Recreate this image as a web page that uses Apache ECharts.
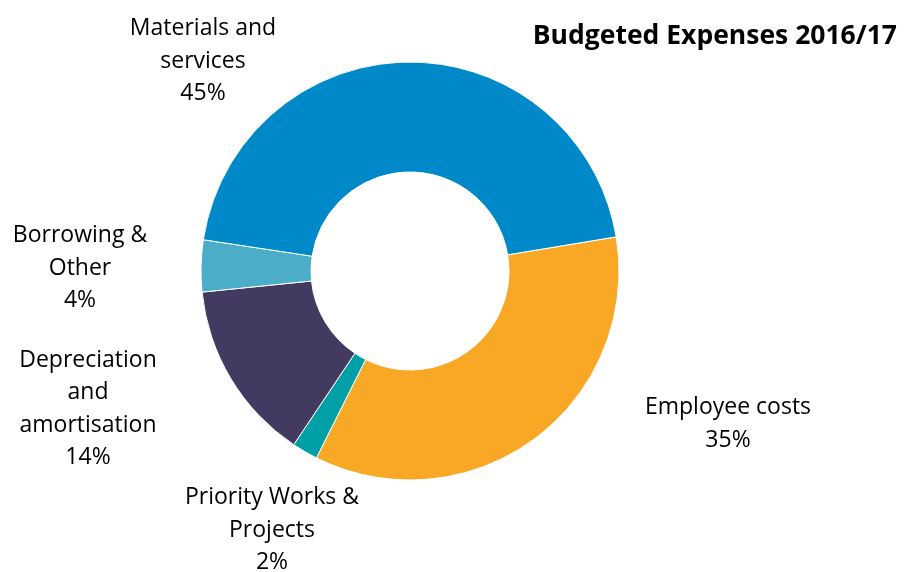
<!DOCTYPE html>
<html>
<head>
<meta charset="utf-8">
<title>Budgeted Expenses 2016/17</title>
<script src="https://cdn.jsdelivr.net/npm/echarts@6/dist/echarts.min.js"></script>
<style>
  html, body { margin: 0; padding: 0; background: #ffffff; }
  #chart { width: 910px; height: 572px; }
</style>
</head>
<body>
<div id="chart"></div>
<script>
// Expense categories, in drawing order (clockwise)
const categories = [
  'Employee costs',
  'Priority Works & Projects',
  'Depreciation and amortisation',
  'Borrowing & Other',
  'Materials and services'
];
// Share of budgeted expenses, percent
const shares = [35, 2, 14, 4, 45];
// Label text as it wraps on the chart
const labelLines = [
  ['Employee costs'],
  ['Priority Works &', 'Projects'],
  ['Depreciation', 'and', 'amortisation'],
  ['Borrowing &', 'Other'],
  ['Materials and', 'services']
];
const colors = ['#F9A826', '#00A0A6', '#433A61', '#4BADC8', '#0089C9'];

// Where each category label block sits (centre of block)
const labelAnchors = [
  [728, 424],
  [272, 530],
  [88, 409],
  [80, 268],
  [203, 61]
];

const chart = echarts.init(document.getElementById('chart'), null, { renderer: 'canvas' });

chart.setOption({
  animation: false,
  backgroundColor: '#ffffff',
  title: {
    text: 'Budgeted Expenses 2016/17',
    right: 8,
    top: 18,
    textStyle: {
      fontFamily: 'Open Sans',
      fontWeight: 'bold',
      fontSize: 26.5,
      color: '#000000'
    }
  },
  series: [{
    type: 'pie',
    center: [410, 271],
    radius: [99, 209],
    startAngle: 9.4,
    clockwise: true,
    silent: true,
    itemStyle: { borderColor: '#ffffff', borderWidth: 1 },
    label: {
      show: true,
      position: 'outside',
      fontFamily: 'Open Sans',
      fontSize: 23,
      lineHeight: 32.5,
      color: '#000000',
      align: 'center',
      formatter: p => labelLines[p.dataIndex].concat([p.value + '%']).join('\n')
    },
    labelLine: { show: false },
    labelLayout: p => ({
      x: labelAnchors[p.dataIndex][0],
      y: labelAnchors[p.dataIndex][1],
      align: 'center',
      verticalAlign: 'middle'
    }),
    data: categories.map((name, i) => ({
      name: name,
      value: shares[i],
      itemStyle: { color: colors[i] }
    }))
  }]
});
</script>
</body>
</html>
